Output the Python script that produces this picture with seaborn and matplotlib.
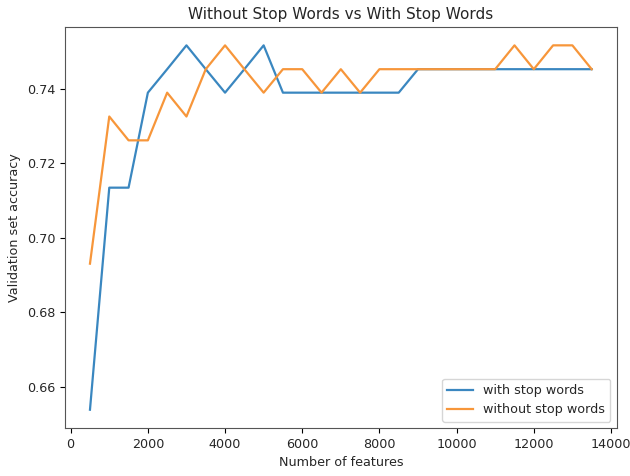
import matplotlib
matplotlib.use("Agg")
import matplotlib.pyplot as plt
import seaborn as sns
import pandas as pd

features = list(range(500, 14000, 500))
with_stop = [0.6538, 0.7134, 0.7134, 0.7389, 0.7452, 0.7516, 0.7452, 0.7389, 0.7452, 0.7516,
             0.7389, 0.7389, 0.7389, 0.7389, 0.7389, 0.7389, 0.7389, 0.7452, 0.7452, 0.7452,
             0.7452, 0.7452, 0.7452, 0.7452, 0.7452, 0.7452, 0.7452]
without_stop = [0.6930, 0.7325, 0.7261, 0.7261, 0.7389, 0.7325, 0.7452, 0.7516, 0.7452, 0.7389,
                0.7452, 0.7452, 0.7389, 0.7452, 0.7389, 0.7452, 0.7452, 0.7452, 0.7452, 0.7452,
                0.7452, 0.7452, 0.7516, 0.7452, 0.7516, 0.7516, 0.7452]
labels = ["with stop words", "without stop words"]

df = pd.DataFrame({
    "features": features * 2,
    "acc": with_stop + without_stop,
    "series": [labels[0]] * len(features) + [labels[1]] * len(features),
})

plt.rcParams.update({
    "font.size": 9.2,
    "axes.titlesize": 11,
    "axes.labelsize": 9.2,
    "xtick.labelsize": 9.2,
    "ytick.labelsize": 9.2,
    "legend.fontsize": 9.2,
    "text.color": "#262626",
    "axes.labelcolor": "#262626",
    "xtick.labelcolor": "#262626",
    "ytick.labelcolor": "#262626",
    "axes.edgecolor": "#555555",
})

fig = plt.figure(figsize=(6.3, 4.76), dpi=100)
ax = fig.add_axes([0.103, 0.101, 0.876, 0.842])
sns.lineplot(data=df, x="features", y="acc", hue="series", hue_order=labels,
             palette=["#3a87c0", "#f7963a"], linewidth=1.6, ax=ax)
ax.set_title("Without Stop Words vs With Stop Words")
ax.set_xlabel("Number of features")
ax.set_ylabel("Validation set accuracy")
ax.set_xticks(range(0, 14001, 2000))
ax.set_yticks([0.66, 0.68, 0.70, 0.72, 0.74])
ax.legend(loc="lower right")
fig.savefig("out.png", dpi=100)
